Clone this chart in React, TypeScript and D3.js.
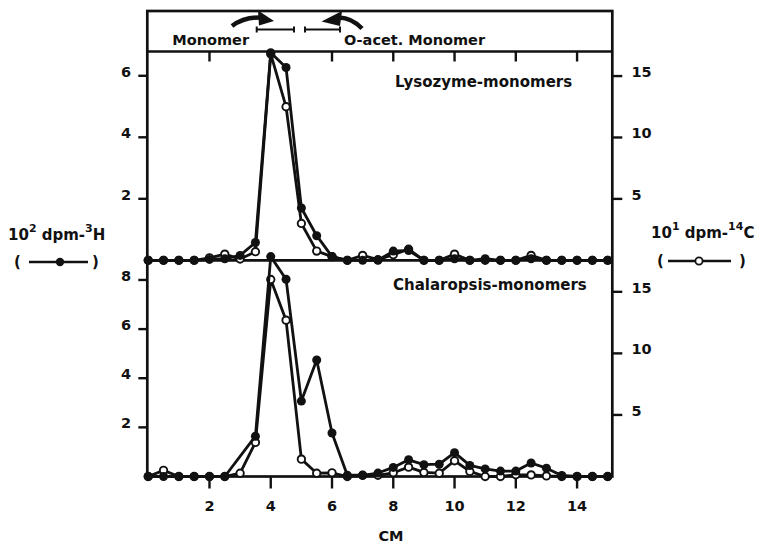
import React from "react";
import * as d3 from "d3";

const cm = [0, 0.5, 1, 1.5, 2, 2.5, 3, 3.5, 4, 4.5, 5, 5.5, 6, 6.5, 7, 7.5, 8, 8.5, 9, 9.5, 10, 10.5, 11, 11.5, 12, 12.5, 13, 13.5, 14, 14.5, 15];

// Lysozyme-monomers: 3H (10^2 dpm, left axis) and 14C (10^1 dpm, right axis)
const lysoH = [0, 0, 0, 0, 0.03, 0.05, 0.16, 0.58, 6.75, 6.27, 1.7, 0.8, 0.12, 0, 0, 0, 0.3, 0.32, 0, 0, 0.05, 0, 0.05, 0, 0, 0.05, 0, 0, 0, 0, 0];
const lysoC = [0, 0, 0, 0, 0.2, 0.5, 0.1, 0.7, 16.8, 12.5, 3.0, 0.75, 0.3, 0, 0.4, 0.05, 0.45, 0.9, 0, 0, 0.5, 0, 0, 0, 0, 0.4, 0, 0, 0, 0, 0];

// Chalaropsis-monomers
const chalH: (number | null)[] = [0, 0, 0, 0, 0, 0, null, 1.64, 8.95, 8.03, 3.07, 4.74, 1.77, 0.05, 0.05, 0.14, 0.37, 0.68, 0.48, 0.5, 0.97, 0.45, 0.31, 0.22, 0.22, 0.55, 0.34, 0.04, 0, 0, 0];
const chalC = [0, 0.5, 0, 0, 0, 0, 0.27, 2.77, 16.0, 12.7, 1.41, 0.27, 0.3, 0, 0.1, 0.1, 0.3, 0.76, 0.33, 0.27, 1.28, 0.41, 0, 0, 0.14, 0.13, 0.05, 0, 0, 0, 0];

const xTicks = [2, 4, 6, 8, 10, 12, 14];
const topLeftTicks = [2, 4, 6];
const botLeftTicks = [2, 4, 6, 8];
const rightTicks = [5, 10, 15];

const FONT = "'DejaVu Sans', sans-serif";

const L = 147.3, R = 612.3;
const BOX_TOP = 11, TOP_TOP = 51.5, TOP_BASE = 260.3, BOT_BASE = 476.5;

const x = d3.scaleLinear().domain([-0.03, 15.15]).range([L, R]);
const yTopL = d3.scaleLinear().domain([0, 6.79]).range([TOP_BASE, TOP_TOP]);
const yTopR = d3.scaleLinear().domain([0, 17]).range([TOP_BASE, TOP_TOP]);
const yBotL = d3.scaleLinear().domain([0, 8.8]).range([BOT_BASE, TOP_BASE]);
const yBotR = d3.scaleLinear().domain([0, 17.56]).range([BOT_BASE, TOP_BASE]);

type Pt = { x: number; v: number };

function Series({ vals, y, filled }: { vals: (number | null)[]; y: d3.ScaleLinear<number, number>; filled: boolean }) {
  const pts: Pt[] = cm.map((c, i) => ({ x: c, v: vals[i] as number })).filter((p) => p.v !== null && p.v !== undefined);
  const line = d3.line<Pt>().x((d) => x(d.x)).y((d) => y(d.v));
  return (
    <g>
      <path d={line(pts) || ""} fill="none" stroke="#111" strokeWidth={2.8} strokeLinejoin="round" />
      {pts.map((p, i) =>
        filled ? (
          <circle key={i} cx={x(p.x)} cy={y(p.v)} r={4.5} fill="#111" />
        ) : (
          <circle key={i} cx={x(p.x)} cy={y(p.v)} r={3.7} fill="#fff" stroke="#111" strokeWidth={1.9} />
        )
      )}
    </g>
  );
}

export default function App() {
  const fs = 14.5;
  return (
    <svg width={770} height={544} style={{ position: "absolute", left: 0, top: 0, display: "block", background: "#fff" }} fontFamily={FONT} fontWeight="bold">
      <rect x={0} y={0} width={770} height={544} fill="#fff" />

      {/* Header box */}
      <text x={172.3} y={45} fontSize={14.5} fill="#111">Monomer</text>
      <text x={344} y={45} fontSize={14.5} fill="#111">O-acet. Monomer</text>
      <g stroke="#111" strokeWidth={2}>
        <line x1={256.7} x2={294} y1={29.5} y2={29.5} />
        <line x1={256.7} x2={256.7} y1={26.5} y2={32.5} />
        <line x1={294} x2={294} y1={26.5} y2={32.5} />
        <line x1={305} x2={340} y1={29.5} y2={29.5} />
        <line x1={305} x2={305} y1={26.5} y2={32.5} />
        <line x1={340} x2={340} y1={26.5} y2={32.5} />
      </g>
      <path d="M232,26 Q244,17 261,17.5" fill="none" stroke="#111" strokeWidth={4.5} />
      <polygon points="258,10.5 274,21 259,25.5" fill="#111" />
      <path d="M362,28.5 Q352,18 339,17.5" fill="none" stroke="#111" strokeWidth={4.5} />
      <polygon points="342,11 321.5,21.5 340,26" fill="#111" />

      {/* Frame */}
      <rect x={L} y={BOX_TOP} width={R - L} height={BOT_BASE - BOX_TOP} fill="none" stroke="#111" strokeWidth={2.7} />
      <line x1={L} x2={R} y1={TOP_TOP} y2={TOP_TOP} stroke="#111" strokeWidth={2.7} />
      <line x1={L} x2={R} y1={TOP_BASE} y2={TOP_BASE} stroke="#111" strokeWidth={2.7} />

      {/* Ticks */}
      <g stroke="#111" strokeWidth={2.4}>
        {xTicks.map((t) => (
          <line key={"xt" + t} x1={x(t)} x2={x(t)} y1={TOP_TOP} y2={TOP_TOP + 10} />
        ))}
        {xTicks.map((t) => (
          <line key={"xb" + t} x1={x(t)} x2={x(t)} y1={BOT_BASE} y2={BOT_BASE + 12} />
        ))}
        {topLeftTicks.map((t) => (
          <line key={"tl" + t} x1={L - 9} x2={L} y1={yTopL(t)} y2={yTopL(t)} />
        ))}
        {botLeftTicks.map((t) => (
          <line key={"bl" + t} x1={L - 9} x2={L} y1={yBotL(t)} y2={yBotL(t)} />
        ))}
        {rightTicks.map((t) => (
          <line key={"tr" + t} x1={R} x2={R + 10} y1={yTopR(t)} y2={yTopR(t)} />
        ))}
        {rightTicks.map((t) => (
          <line key={"br" + t} x1={R} x2={R + 10} y1={yBotR(t)} y2={yBotR(t)} />
        ))}
      </g>

      {/* Tick labels */}
      <g fontSize={fs} fill="#111">
        {xTicks.map((t) => (
          <text key={"xl" + t} x={x(t)} y={511} textAnchor="middle">{t}</text>
        ))}
        {topLeftTicks.map((t) => (
          <text key={"tll" + t} x={131} y={yTopL(t) + 1} textAnchor="end">{t}</text>
        ))}
        {botLeftTicks.map((t) => (
          <text key={"bll" + t} x={131} y={yBotL(t) + 1} textAnchor="end">{t}</text>
        ))}
        {rightTicks.map((t) => (
          <text key={"trl" + t} x={631.5} y={yTopR(t) + 1}>{t}</text>
        ))}
        {rightTicks.map((t) => (
          <text key={"brl" + t} x={631.5} y={yBotR(t) + 1}>{t}</text>
        ))}
        <text x={391} y={541} textAnchor="middle">CM</text>
      </g>

      {/* Panel titles */}
      <text x={395} y={87} fontSize={15} fill="#111">Lysozyme-monomers</text>
      <text x={393} y={290} fontSize={15} fill="#111">Chalaropsis-monomers</text>

      {/* Data */}
      <Series vals={lysoC} y={yTopR} filled={false} />
      <Series vals={lysoH} y={yTopL} filled={true} />
      <Series vals={chalC} y={yBotR} filled={false} />
      <Series vals={chalH} y={yBotL} filled={true} />

      {/* Left axis label */}
      <text x={8} y={240} fontSize={15} fill="#111">
        10<tspan fontSize={11} dy={-8}>2</tspan>
        <tspan dy={8}> dpm-</tspan>
        <tspan fontSize={11} dy={-8}>3</tspan>
        <tspan dy={8}>H</tspan>
      </text>
      <text x={14} y={267} fontSize={15} fill="#111">(</text>
      <text x={92} y={267} fontSize={15} fill="#111">)</text>
      <line x1={29} x2={88} y1={262} y2={262} stroke="#111" strokeWidth={2.6} />
      <circle cx={60} cy={262} r={4.2} fill="#111" />

      {/* Right axis label */}
      <text x={651} y={238} fontSize={15} fill="#111">
        10<tspan fontSize={11} dy={-8}>1</tspan>
        <tspan dy={8}> dpm-</tspan>
        <tspan fontSize={11} dy={-8}>14</tspan>
        <tspan dy={8}>C</tspan>
      </text>
      <text x={657} y={266} fontSize={15} fill="#111">(</text>
      <text x={739} y={266} fontSize={15} fill="#111">)</text>
      <line x1={668} x2={731} y1={261} y2={261} stroke="#111" strokeWidth={2.6} />
      <circle cx={699} cy={261} r={3.6} fill="#fff" stroke="#111" strokeWidth={1.8} />
    </svg>
  );
}
